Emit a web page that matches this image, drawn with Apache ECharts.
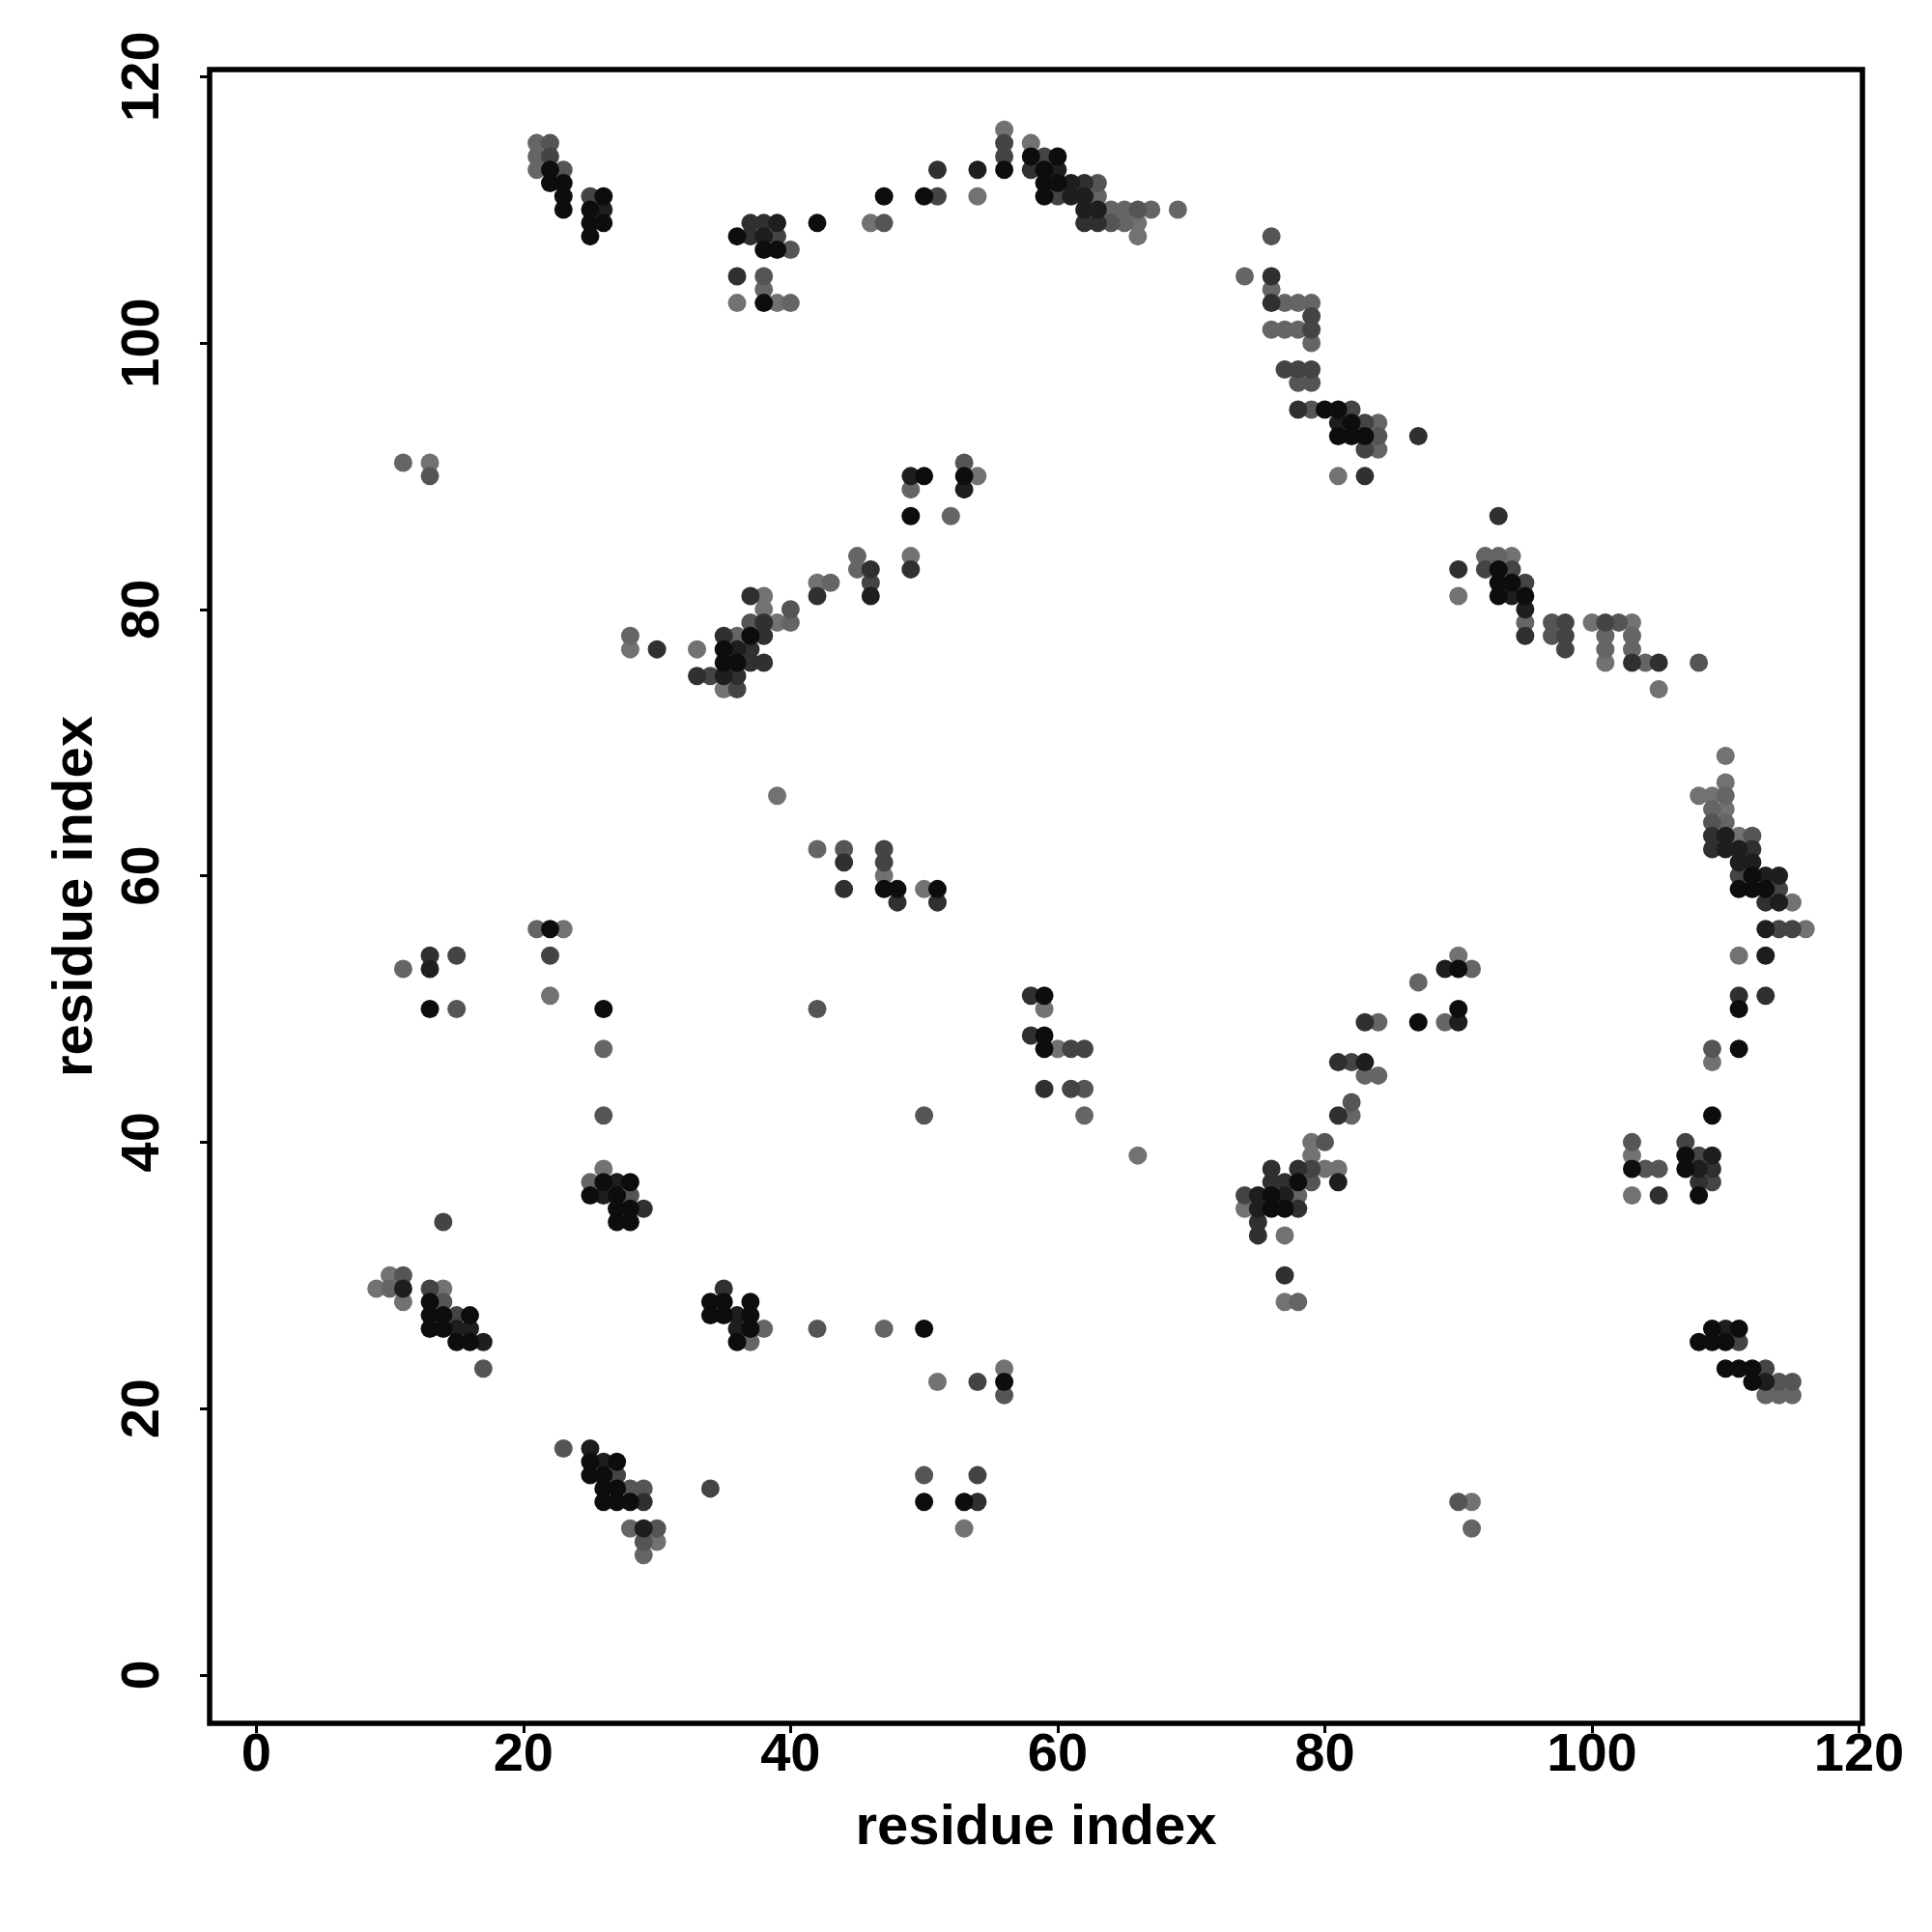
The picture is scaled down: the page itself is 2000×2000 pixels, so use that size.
<!DOCTYPE html>
<html>
<head>
<meta charset="utf-8">
<script src="https://cdn.jsdelivr.net/npm/echarts@6/dist/echarts.min.js"></script>
<style>html,body{margin:0;padding:0;background:#fff}#c{width:2000px;height:2000px}</style>
</head>
<body>
<div id="c"></div>
<script>
// Contact points [residue i, residue j], grouped by grey shade (darkest first)
const shade0 = [[22,113],[22,112],[23,112],[23,111],[23,110],[26,111],[25,110],[25,109],[26,109],[25,108],[42,109],[36,108],[38,107],[39,107],[38,103],
[56,113],[58,114],[60,114],[59,113],[59,112],[60,112],[59,111],[47,111],[50,111],[80,95],[81,95],[81,93],[50,90],[53,90],[49,87],
[82,94],[82,93],[83,93],[93,83],[93,82],[94,82],[93,81],[95,81],
[37,78],[35,77],[35,76],[36,76],[22,56],[13,50],[26,50],
[47,59],[48,59],[51,59],[59,51],[59,48],[59,47],
[112,60],[111,59],[112,59],[113,59],[111,50],[111,47],[90,53],[90,50],[87,49],
[26,37],[28,37],[25,36],[27,36],[27,35],[28,35],[27,34],[28,34],[13,28],[13,27],[14,27],[16,27],[13,26],[14,26],[15,25],[16,25],[34,28],[35,28],[37,28],[34,27],[35,27],[37,27],[37,26],[36,25],[25,16],[27,16],[25,15],[26,15],[26,14],[27,14],[26,13],[27,13],[28,13],
[50,26],[56,22],[50,13],[53,13],[78,37],[76,36],[76,35],[77,35],
[109,42],[103,38],[107,39],[107,38],[108,36],[109,26],[111,26],[108,25],[109,25],[110,25],[110,23],[111,23],[112,23],[112,22]];
const shade1 = [[26,110],[39,109],[38,108],
[60,113],[61,112],[61,111],[62,111],[62,110],[63,110],[54,113],[81,94],[49,90],[53,89],[46,81],
[94,81],[36,77],[35,75],[13,53],
[95,80],[110,63],[110,62],[111,62],[111,61],[112,61],[113,60],[114,60],[114,58],[113,56],[113,54],[89,53],[90,49],[83,46],
[27,37],[26,36],[11,29],[15,26],[16,26],[17,25],[36,27],[36,26],[25,17],[26,16],[29,11],
[75,36],[77,36],[75,35],[81,37],
[109,39],[108,38],[110,26],[113,22]];
const shade2 = [[37,109],[38,109],[37,108],[36,105],
[58,113],[62,112],[62,109],[63,109],[51,113],[76,105],[76,103],[78,95],[46,83],[49,83],
[87,93],[83,90],[93,87],[90,83],
[37,81],[38,79],[42,81],[35,78],[38,78],[37,77],[37,76],[38,76],[33,75],[36,75],[30,77],[44,61],[44,59],[13,54],
[48,58],[51,58],[58,51],[58,48],[81,46],
[95,78],[103,76],[105,76],[109,63],[109,62],[112,62],[113,58],[111,51],[113,51],[83,49],
[29,35],[35,29],[29,13],
[59,44],[54,13],[81,42],[76,38],[78,38],[76,37],[77,37],[78,35],[75,34],[75,33],[77,30],
[105,36],[109,38],[108,37]];
const shade3 = [[22,114],[25,111],[39,108],
[56,115],[56,114],[59,114],[60,111],[51,111],[79,102],[79,101],[77,98],[78,98],[79,98],[46,82],
[82,95],[83,94],[83,92],[92,83],[94,83],[95,82],
[34,75],[36,74],[22,54],[15,54],
[47,62],[47,61],[61,47],[62,47],
[98,79],[98,78],[98,77],[101,79],[111,60],[114,59],[114,56],[115,56],[82,46],
[14,34],[13,29],[15,27],[27,15],[34,14],
[61,44],[54,22],[54,15],[79,38],[74,36],
[107,40],[108,39],[109,37],[111,25],[113,23]];
const shade4 = [[22,115],[23,113],[40,107],[38,105],[13,90],
[63,112],[64,109],[66,110],[47,109],[76,108],[78,97],[79,97],[79,95],[53,91],
[84,93],[37,79],[40,80],[44,62],[15,50],[42,50],
[97,79],[97,78],[102,79],[108,76],[109,64],[112,63],[109,47],
[26,42],[28,36],[11,30],[14,28],[17,23],[23,17],[28,14],[29,14],[30,11],[29,10],[42,26],
[62,44],[50,42],[56,21],[50,15],[80,40],[79,37],
[82,43],[103,40],[104,38],[105,38],[114,22],[115,22],[90,13]];
const shade5 = [[21,115],[21,114],[21,113],[38,104],[40,103],[11,91],
[63,111],[64,110],[65,110],[67,110],[69,110],[65,109],[74,105],[76,104],[77,103],[78,103],[79,103],[76,101],[77,101],[78,101],[79,100],[49,89],[52,87],[45,84],[45,83],
[84,94],[84,92],[92,84],[93,84],
[40,79],[36,78],[28,78],[42,62],[21,56],[11,53],[26,47],[43,82],
[95,79],[101,78],[103,78],[101,77],[103,77],[104,76],[110,66],[109,65],[110,64],[91,53],[87,52],[84,49],[89,49],[83,45],[84,45],
[25,37],[10,29],[38,26],[37,25],[28,11],[29,9],
[62,42],[47,26],[78,36],[78,28],
[82,42],[113,21],[114,21],[115,21],[91,11]];
const shade6 = [[36,103],[39,103],[13,91],
[56,116],[58,115],[66,109],[66,108],[54,111],[46,109],[81,90],[54,90],[49,84],
[90,81],[94,84],
[38,81],[38,80],[39,79],[42,82],[35,74],[28,77],[33,77],[39,66],[23,56],[22,51],
[47,60],[50,59],[59,50],[60,47],
[100,79],[103,79],[101,76],[105,74],[110,69],[110,67],[108,66],[109,66],[110,65],[111,63],[115,58],[116,56],[111,54],[109,46],[90,54],
[26,38],[10,30],[9,29],[11,28],[14,29],[30,10],
[66,39],[51,22],[56,23],[53,11],[79,40],[79,39],[80,38],[81,38],[74,35],[77,33],[77,28],
[103,39],[103,36],[91,13]];
const tickValues = [0, 20, 40, 60, 80, 100, 120];

const groups = [
  {data: shade6, color: '#727272'},
  {data: shade5, color: '#656565'},
  {data: shade4, color: '#555555'},
  {data: shade3, color: '#444444'},
  {data: shade2, color: '#303030'},
  {data: shade1, color: '#1e1e1e'},
  {data: shade0, color: '#0d0d0d'}
];

const font = 'Liberation Sans, Helvetica, Arial, sans-serif';
const chart = echarts.init(document.getElementById('c'), null, {renderer: 'canvas'});
const axisCommon = {
  type: 'value',
  axisLine: {show: false, onZero: false},
  splitLine: {show: false},
  axisTick: {show: true, length: 10, inside: false, customValues: tickValues, lineStyle: {color: '#000', width: 3}},
  axisLabel: {customValues: tickValues, fontSize: 56, fontWeight: 'bold', color: '#000', fontFamily: font},
  name: 'residue index',
  nameLocation: 'middle',
  nameTextStyle: {fontSize: 58, fontWeight: 'bold', color: '#000', fontFamily: font}
};
chart.setOption({
  animation: false,
  backgroundColor: '#fff',
  grid: {left: 217, top: 72, width: 1711, height: 1712, show: true, borderColor: '#000', borderWidth: 5.5, backgroundColor: 'transparent'},
  xAxis: Object.assign({}, axisCommon, {
    position: 'bottom',
    min: -3.49, max: 120.25, nameGap: 80,
    axisLabel: Object.assign({}, axisCommon.axisLabel, {margin: 6})
  }),
  yAxis: Object.assign({}, axisCommon, {
    position: 'left',
    min: -3.63, max: 120.52, nameGap: 109,
    axisLabel: Object.assign({}, axisCommon.axisLabel, {margin: 40, rotate: 90})
  }),
  series: groups.map(g => ({
    type: 'scatter',
    data: g.data,
    symbol: 'circle',
    symbolSize: 19,
    itemStyle: {color: g.color, opacity: 1},
    emphasis: {disabled: true},
    silent: true
  }))
});
</script>
</body>
</html>
